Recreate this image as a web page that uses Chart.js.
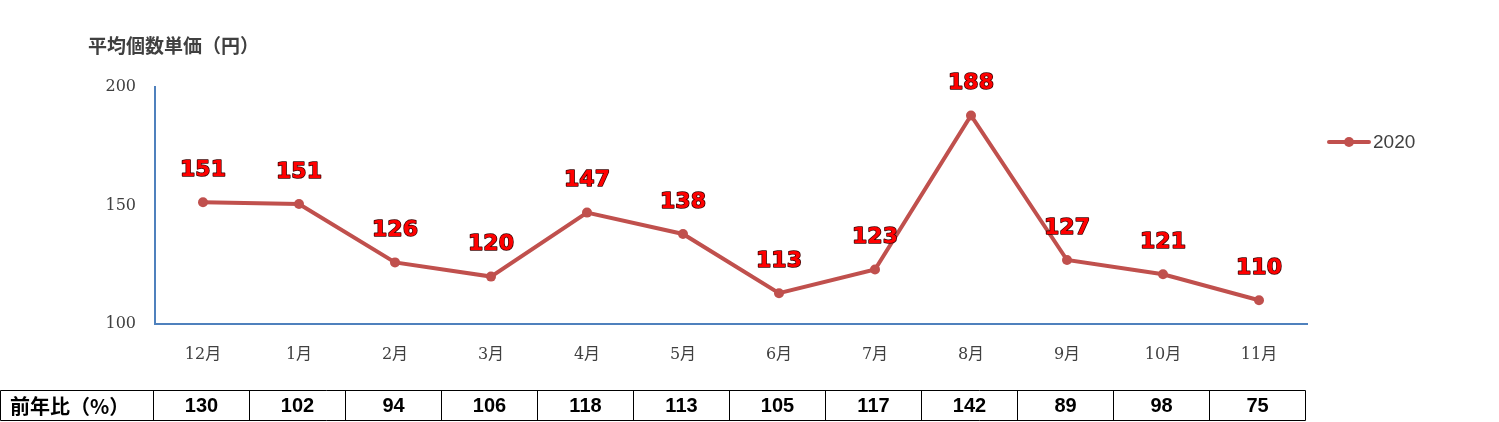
<!DOCTYPE html>
<html>
<head>
<meta charset="utf-8">
<script src="https://cdn.jsdelivr.net/npm/chart.js@4"></script>
<style>
  html, body { margin: 0; padding: 0; background: #fff; }
  #wrap { width: 1499px; height: 422px; }
</style>
</head>
<body>
<div id="wrap"><canvas id="chart" width="1499" height="422"></canvas></div>
<script>
const months = ['12月', '1月', '2月', '3月', '4月', '5月', '6月', '7月', '8月', '9月', '10月', '11月']
const unitPrice2020 = [151.4, 150.6, 126, 120, 147, 138, 113, 123, 188, 127, 121, 110]
const priceLabels = ['151', '151', '126', '120', '147', '138', '113', '123', '188', '127', '121', '110']
const yoyPercent = [130, 102, 94, 106, 118, 113, 105, 117, 142, 89, 98, 75]
const yTicks = [100, 150, 200]

const axisBlue = '#4F81BD'
const lineRed = '#C0504D'
const textGray = '#404040'

// value labels above each point
const pointLabels = {
  id: 'pointLabels',
  afterDatasetsDraw(chart) {
    const ctx = chart.ctx
    const meta = chart.getDatasetMeta(0)
    ctx.save()
    ctx.font = 'bold 22px "DejaVu Sans", Verdana, sans-serif'
    ctx.textAlign = 'center'
    ctx.textBaseline = 'middle'
    ctx.lineWidth = 1.5
    ctx.lineJoin = 'round'
    ctx.strokeStyle = '#3a0000'
    ctx.fillStyle = '#FF0000'
    meta.data.forEach((pt, i) => {
      ctx.strokeText(priceLabels[i], pt.x, pt.y - 32)
      ctx.fillText(priceLabels[i], pt.x, pt.y - 32)
    })
    ctx.restore()
  }
}

// axis title, legend and the 前年比 table
const extras = {
  id: 'extras',
  afterDraw(chart) {
    const ctx = chart.ctx
    const xs = chart.scales.x
    const area = chart.chartArea
    const ds = chart.data.datasets[0]
    ctx.save()

    ctx.fillStyle = textGray
    ctx.font = 'bold 19px "Noto Sans CJK JP", sans-serif'
    ctx.textBaseline = 'middle'
    ctx.textAlign = 'left'
    ctx.fillText('平均個数単価（円）', 88, 46)

    // legend
    const ly = 142
    ctx.strokeStyle = ds.borderColor
    ctx.lineWidth = 4
    ctx.lineCap = 'round'
    ctx.beginPath()
    ctx.moveTo(1329, ly)
    ctx.lineTo(1369, ly)
    ctx.stroke()
    ctx.fillStyle = ds.borderColor
    ctx.beginPath()
    ctx.arc(1349, ly, 5, 0, Math.PI * 2)
    ctx.fill()
    ctx.fillStyle = textGray
    ctx.font = '19px "Liberation Sans", Arial, sans-serif'
    ctx.fillText(ds.label, 1373, ly + 1)

    // table
    const top = 390.5, bottom = 420.5
    const half = (area.right - area.left) / months.length / 2
    const edges = [0.5]
    months.forEach((m, i) => edges.push(Math.round(xs.getPixelForValue(i) - half) - 1.5))
    edges.push(Math.round(area.right) - 1.5)
    ctx.strokeStyle = '#000'
    ctx.lineWidth = 1
    ctx.lineCap = 'butt'
    ctx.beginPath()
    ctx.moveTo(edges[0], top); ctx.lineTo(edges[edges.length - 1], top)
    ctx.moveTo(edges[0], bottom); ctx.lineTo(edges[edges.length - 1], bottom)
    edges.forEach(e => { ctx.moveTo(e, top); ctx.lineTo(e, bottom) })
    ctx.stroke()

    ctx.fillStyle = '#000'
    ctx.font = 'bold 20px "Noto Sans CJK JP", sans-serif'
    ctx.textAlign = 'left'
    ctx.fillText('前年比（%）', 10, 406)
    ctx.font = 'bold 20px "Liberation Sans", Arial, sans-serif'
    ctx.textAlign = 'center'
    yoyPercent.forEach((v, i) => {
      ctx.fillText(String(v), (edges[i + 1] + edges[i + 2]) / 2, 406)
    })
    ctx.restore()
  }
}

new Chart(document.getElementById('chart'), {
  type: 'line',
  data: {
    labels: months,
    datasets: [{
      label: '2020',
      data: unitPrice2020,
      borderColor: lineRed,
      backgroundColor: lineRed,
      borderWidth: 4,
      pointRadius: 5,
      pointHoverRadius: 5,
      pointBackgroundColor: lineRed,
      pointBorderWidth: 0,
      tension: 0
    }]
  },
  options: {
    responsive: false,
    animation: false,
    layout: { padding: { top: 87, right: 192, left: 0, bottom: 0 } },
    plugins: {
      legend: { display: false },
      tooltip: { enabled: false }
    },
    scales: {
      x: {
        offset: true,
        grid: { display: false, drawTicks: false },
        border: { color: axisBlue, width: 2 },
        ticks: {
          color: textGray,
          padding: 21,
          font: { family: '"DejaVu Serif", "Noto Sans CJK JP", serif', size: 16 }
        },
        afterFit(scale) { scale.height = 98 }
      },
      y: {
        min: 100,
        max: 200,
        grid: { display: false, drawTicks: false },
        border: { color: axisBlue, width: 2 },
        afterBuildTicks(scale) { scale.ticks = yTicks.map(v => ({ value: v })) },
        ticks: {
          color: textGray,
          padding: 19,
          font: { family: '"DejaVu Serif", serif', size: 16 }
        },
        afterFit(scale) { scale.width = 155 }
      }
    }
  },
  plugins: [pointLabels, extras]
})
</script>
</body>
</html>
